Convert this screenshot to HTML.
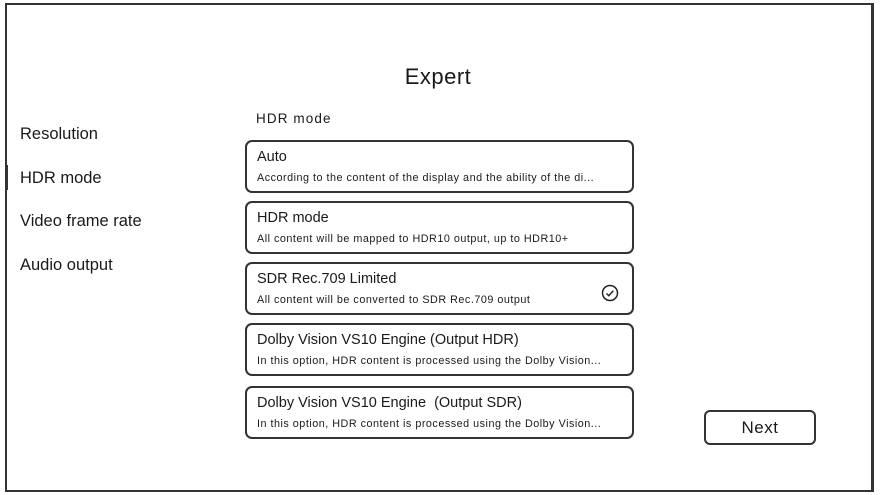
<!DOCTYPE html>
<html><head><style>
body{margin:0;width:883px;height:495px;background:#fff;font-family:"Liberation Sans","DejaVu Sans",sans-serif;color:#1a1a1a;position:relative;overflow:hidden}
.frame{position:absolute;left:5px;top:3px;width:864px;height:485px;border:2px solid #333;border-right-width:3px;border-bottom-width:2px}
.t{position:absolute;white-space:nowrap}
.card{position:absolute;left:245px;width:385px;border:2px solid #333;border-radius:7px;height:49px}
.card .a{position:absolute;left:10px;top:7px;font-size:14.5px}
.card .b{position:absolute;left:10px;top:30px;font-size:10.8px;letter-spacing:0.5px}
.nav{font-size:16.5px;left:20px}
</style></head><body>
<div class="frame"></div>
<div style="position:absolute;left:5px;top:165px;width:3px;height:25px;background:#333"></div>
<div class="t" style="left:0;width:876px;text-align:center;top:64px;font-size:22px;letter-spacing:0.5px">Expert</div>
<div class="t nav" style="top:125px">Resolution</div>
<div class="t nav" style="top:169px">HDR mode</div>
<div class="t nav" style="top:212px">Video frame rate</div>
<div class="t nav" style="top:256px">Audio output</div>
<div class="t" style="left:256px;top:111px;font-size:13.5px;letter-spacing:1.1px">HDR mode</div>
<div class="card" style="top:140px"><div class="a">Auto</div><div class="b">According to the content of the display and the ability of the di...</div></div>
<div class="card" style="top:201px"><div class="a">HDR mode</div><div class="b">All content will be mapped to HDR10 output, up to HDR10+</div></div>
<div class="card" style="top:262px"><div class="a">SDR Rec.709 Limited</div><div class="b">All content will be converted to SDR Rec.709 output</div>
<svg style="position:absolute;left:354px;top:20px" width="18" height="18"><circle cx="9" cy="9" r="7.5" fill="none" stroke="#222" stroke-width="1.5"/><path d="M5.5 9.5l2.3 2.2 4.5-5" fill="none" stroke="#222" stroke-width="1.5"/></svg></div>
<div class="card" style="top:323px"><div class="a">Dolby Vision VS10 Engine (Output HDR)</div><div class="b">In this option, HDR content is processed using the Dolby Vision...</div></div>
<div class="card" style="top:386px"><div class="a">Dolby Vision VS10 Engine &nbsp;(Output SDR)</div><div class="b">In this option, HDR content is processed using the Dolby Vision...</div></div>
<div style="position:absolute;left:704px;top:410px;width:108px;height:31px;border:2px solid #333;border-radius:6px;text-align:center;line-height:31px;font-size:17px;letter-spacing:0.5px">Next</div>
</body></html>
